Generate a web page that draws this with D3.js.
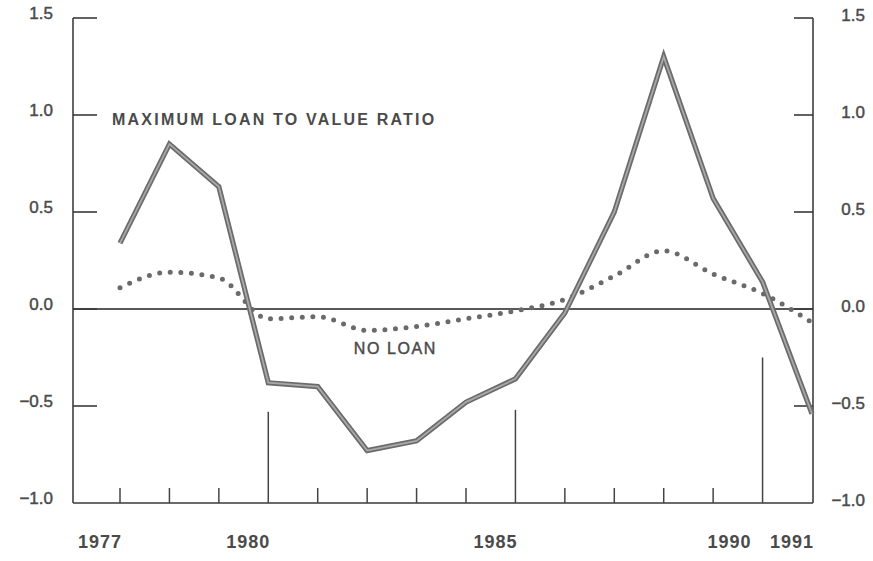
<!DOCTYPE html>
<html>
<head>
<meta charset="utf-8">
<script src="https://cdn.jsdelivr.net/npm/d3@7"></script>
<style>
  body { margin: 0; background: #fff; }
  svg { display: block; font-family: "Liberation Sans", Arial, Helvetica, sans-serif; }
</style>
</head>
<body>
<svg id="chart" width="873" height="561"></svg>
<script>
// years on the horizontal axis
const years = [1977, 1978, 1979, 1980, 1981, 1982, 1983, 1984, 1985, 1986, 1987, 1988, 1989, 1990, 1991];
const yearLabels = [1977, 1980, 1985, 1990, 1991];
const longTickYears = [1980, 1985, 1990];
const longTickTops = [-0.53, -0.52, -0.25];

// series values
const maxLoanToValue = [0.34, 0.85, 0.63, -0.38, -0.40, -0.73, -0.68, -0.48, -0.36, -0.02, 0.50, 1.30, 0.57, 0.14, -0.54];
const noLoan = [0.11, 0.19, 0.16, -0.05, -0.04, -0.11, -0.09, -0.05, -0.01, 0.05, 0.17, 0.30, 0.18, 0.08, -0.07];

const yTicks = [-1.0, -0.5, 0.0, 0.5, 1.0, 1.5];
const yTickLabels = ['\u22121.0', '\u22120.5', '0.0', '0.5', '1.0', '1.5'];

const svg = d3.select('#chart');
const ink = '#3a3a3a';
const textInk = '#4a4a4a';

const x = d3.scaleLinear().domain([1977, 1991]).range([120, 812]);
const y = d3.scaleLinear().domain([-1, 1.5]).range([503, 18]);
const leftX = 73;
const rightX = 813;

// frame
svg.append('line')
    .attr('x1', leftX).attr('x2', leftX)
    .attr('y1', y(1.5)).attr('y2', y(-1))
    .attr('stroke', '#555').attr('stroke-width', 1.8);
svg.append('line')
    .attr('x1', rightX).attr('x2', rightX)
    .attr('y1', y(1.5)).attr('y2', y(-1))
    .attr('stroke', '#555').attr('stroke-width', 1.8);
svg.append('line')
    .attr('x1', leftX).attr('x2', rightX)
    .attr('y1', y(-1)).attr('y2', y(-1))
    .attr('stroke', ink).attr('stroke-width', 1.6);
svg.append('line')
    .attr('x1', leftX).attr('x2', rightX)
    .attr('y1', y(0)).attr('y2', y(0))
    .attr('stroke', '#222').attr('stroke-width', 1.3);

// y ticks, both sides
svg.selectAll('.ytick-l')
    .data(yTicks.filter(d => d > -1))
    .enter()
    .append('line')
    .classed('ytick-l', true)
    .attr('x1', leftX).attr('x2', leftX + 24)
    .attr('y1', d => y(d)).attr('y2', d => y(d))
    .attr('stroke', ink).attr('stroke-width', 1.6);
svg.selectAll('.ytick-r')
    .data(yTicks.filter(d => d > -1))
    .enter()
    .append('line')
    .classed('ytick-r', true)
    .attr('x1', rightX - 19).attr('x2', rightX)
    .attr('y1', d => y(d)).attr('y2', d => y(d))
    .attr('stroke', ink).attr('stroke-width', 1.6);

svg.selectAll('.ylab-l')
    .data(yTicks)
    .enter()
    .append('text')
    .classed('ylab-l', true)
    .attr('x', 53)
    .attr('y', d => y(d) + 1)
    .attr('text-anchor', 'end')
    .attr('font-size', 17)
    .attr('fill', textInk)
    .attr('stroke', textInk)
    .attr('stroke-width', 0.45)
    .text((d, i) => yTickLabels[i]);
svg.selectAll('.ylab-r')
    .data(yTicks)
    .enter()
    .append('text')
    .classed('ylab-r', true)
    .attr('x', 865)
    .attr('y', d => y(d) + 3)
    .attr('text-anchor', 'end')
    .attr('font-size', 17)
    .attr('fill', textInk)
    .attr('stroke', textInk)
    .attr('stroke-width', 0.45)
    .text((d, i) => yTickLabels[i]);

// x ticks
svg.selectAll('.xtick')
    .data(years.filter(d => d < 1991))
    .enter()
    .append('line')
    .classed('xtick', true)
    .attr('x1', d => x(d)).attr('x2', d => x(d))
    .attr('y1', y(-1))
    .attr('y2', d => {
        const i = longTickYears.indexOf(d);
        return i >= 0 ? y(longTickTops[i]) : y(-1) - 15;
    })
    .attr('stroke', '#444').attr('stroke-width', 1.5);

svg.selectAll('.xlab')
    .data(yearLabels)
    .enter()
    .append('text')
    .classed('xlab', true)
    .attr('x', d => x(d) + (d === 1990 ? -11 : 2))
    .attr('y', 548)
    .attr('text-anchor', 'end')
    .attr('font-size', 18)
    .attr('font-weight', 'bold')
    .attr('letter-spacing', 1)
    .attr('fill', textInk)
    .text(d => d);

// NO LOAN dotted curve
const dotted = d3.line()
    .x((d, i) => x(years[i]))
    .y(d => y(d))
    .curve(d3.curveMonotoneX);
svg.append('path')
    .datum(noLoan)
    .attr('d', dotted)
    .attr('fill', 'none')
    .attr('stroke', '#6a6a6a')
    .attr('stroke-width', 5)
    .attr('stroke-linecap', 'round')
    .attr('stroke-dasharray', '0 10.6');

// maximum loan to value ratio, drawn as a hollow double line
const solid = d3.line()
    .x((d, i) => x(years[i]))
    .y(d => y(d));
svg.append('path')
    .datum(maxLoanToValue)
    .attr('d', solid)
    .attr('fill', 'none')
    .attr('stroke', '#6b6b6b')
    .attr('stroke-width', 5.2)
    .attr('stroke-linejoin', 'miter');
svg.append('path')
    .datum(maxLoanToValue)
    .attr('d', solid)
    .attr('fill', 'none')
    .attr('stroke', '#a9a9a9')
    .attr('stroke-width', 1.8);

// annotations
svg.append('text')
    .attr('x', x(1976.84))
    .attr('y', y(0.95))
    .attr('font-size', 16)
    .attr('font-weight', 'bold')
    .attr('letter-spacing', 2.2)
    .attr('fill', textInk)
    .text('MAXIMUM LOAN TO VALUE RATIO');
svg.append('text')
    .attr('x', x(1981.73))
    .attr('y', y(-0.23))
    .attr('font-size', 16)
    .attr('letter-spacing', 1.6)
    .attr('fill', textInk)
    .attr('stroke', textInk)
    .attr('stroke-width', 0.45)
    .text('NO LOAN');
</script>
</body>
</html>
